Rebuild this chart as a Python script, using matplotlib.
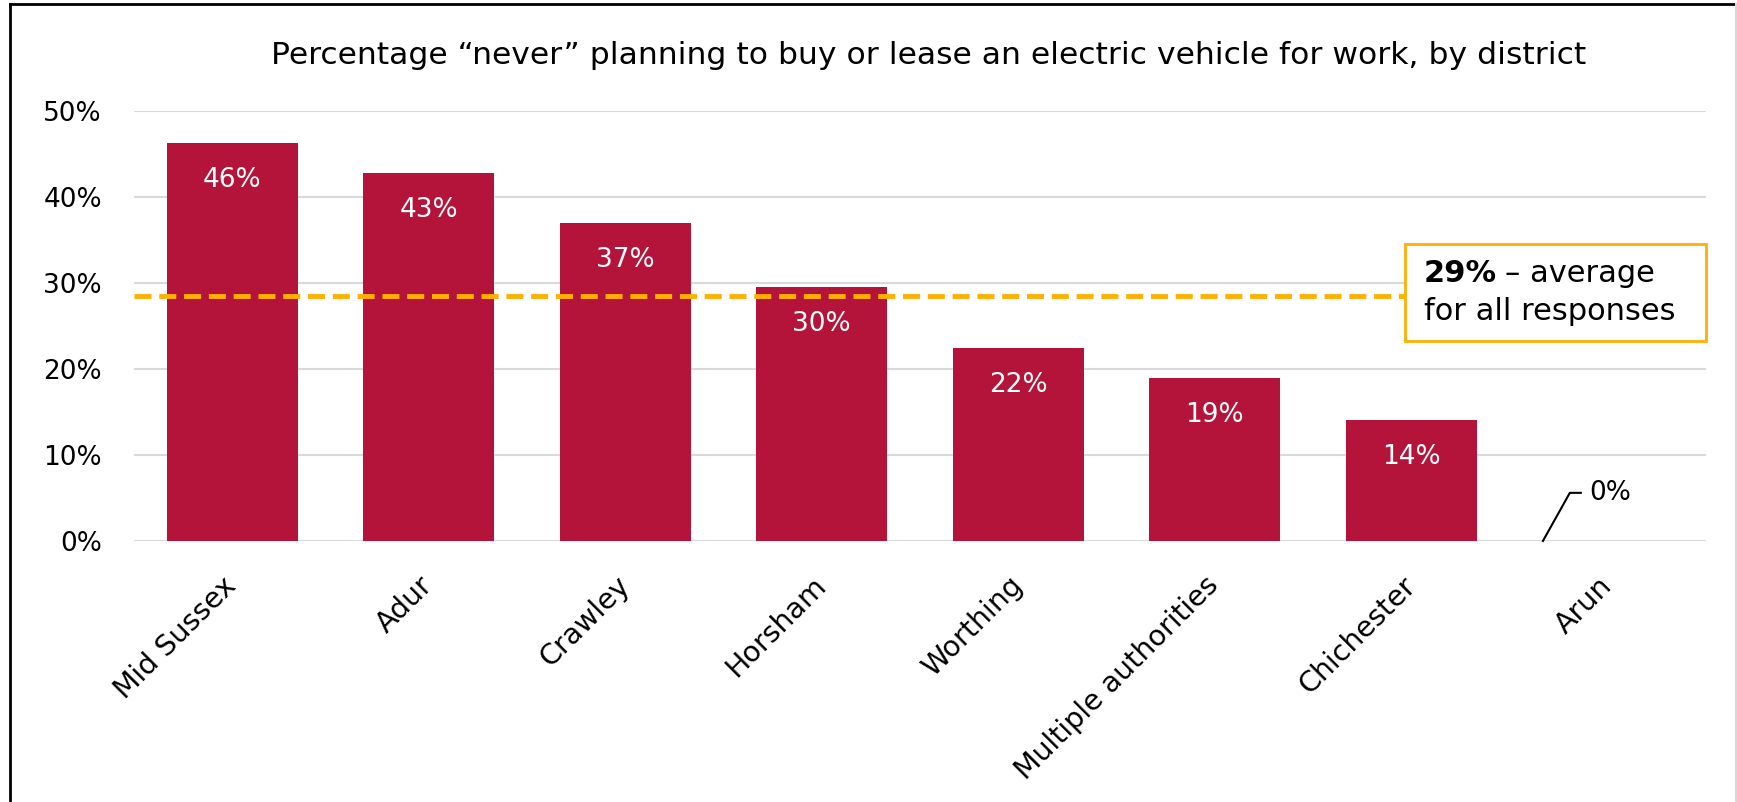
import numpy as np
import matplotlib
matplotlib.use("Agg")
import matplotlib.pyplot as plt
from matplotlib.patches import Rectangle
from matplotlib.lines import Line2D

districts = ["Mid Sussex", "Adur", "Crawley", "Horsham", "Worthing",
             "Multiple authorities", "Chichester", "Arun"]
never_pct = [46.3, 42.8, 37.0, 29.5, 22.4, 19.0, 14.1, 0.0]
value_labels = ["46%", "43%", "37%", "30%", "22%", "19%", "14%", "0%"]
average_pct = 28.5
average_label = "29%"
y_ticks = [0, 10, 20, 30, 40, 50]

BAR = "#B5143A"
AMBER = "#FFB000"
GRID = "#D9D9D9"

plt.rcParams["font.family"] = ["DejaVu Sans"]

W, H = 1737, 802
L, R, T, B = 134, 1706, 111, 541
fig = plt.figure(figsize=(W / 100, H / 100), dpi=100)
ax = fig.add_axes([L / W, 1 - B / H, (R - L) / W, (B - T) / H])

x = np.arange(len(districts))
ax.bar(x, never_pct, width=0.667, color=BAR, zorder=2)
ax.set_xlim(-0.5, len(districts) - 0.5)
ax.set_ylim(0, 50)
ax.set_yticks(y_ticks)
ax.set_yticklabels([f"{v}%" for v in y_ticks], fontsize=19)
ax.tick_params(axis="y", length=0, pad=23)
ax.set_xticks(x)
ax.set_xticklabels(districts, rotation=45, ha="right", va="center",
                   rotation_mode="anchor", fontsize=20.5)
ax.tick_params(axis="x", length=0, pad=29)
ax.grid(axis="y", color=GRID, lw=1.5, zorder=0)
ax.set_axisbelow(True)
for s in ax.spines.values():
    s.set_visible(False)

# value labels inside bars; the empty Arun bar gets a leader line instead
for xi, v, lab in zip(x, never_pct, value_labels):
    if v > 1:
        ax.text(xi, v - 4.3, lab, ha="center", va="center", color="white",
                fontsize=19)
    else:
        ax.plot([xi - 0.33, xi - 0.193, xi - 0.137], [v, v + 5.6, v + 5.6],
                color="black", lw=1.5, zorder=3, clip_on=False)
        ax.text(xi - 0.092, v + 5.6, lab, ha="left", va="center", fontsize=19)

# average line up to the callout box
box_left = 1405
ax.plot([-0.5, (box_left - L) / (R - L) * len(districts) - 0.5],
        [average_pct, average_pct], color=AMBER, lw=3.5, ls=(0, (3.5, 1.6)),
        zorder=3, solid_capstyle="butt")

fig.patches.append(Rectangle((box_left / W, 1 - 341 / H), (1706 - box_left) / W,
                             (341 - 244) / H, transform=fig.transFigure,
                             fill=True, facecolor="white", edgecolor=AMBER, lw=2))
t1 = fig.text(1424 / W, 1 - 274 / H, average_label, fontsize=22, fontweight="bold",
              va="center", ha="left")
fig.canvas.draw()
bb = t1.get_window_extent()
fig.text((bb.x1 + 8) / W, 1 - 274 / H, "\u2013 average", fontsize=22,
         va="center", ha="left")
fig.text(1424 / W, 1 - 312 / H, "for all responses", fontsize=22, va="center", ha="left")

fig.text(929 / W, 1 - 56 / H,
         "Percentage \u201cnever\u201d planning to buy or lease an electric vehicle for work, by district",
         ha="center", va="center", fontsize=22.6)

# outer frame: left and top in black, right in light grey
fig.lines.append(Line2D([10 / W, 10 / W], [0, 1 - 4 / H], transform=fig.transFigure,
                        color="black", lw=2))
fig.lines.append(Line2D([10 / W, 1736 / W], [1 - 4 / H, 1 - 4 / H],
                        transform=fig.transFigure, color="black", lw=2))
fig.lines.append(Line2D([1736 / W, 1736 / W], [0, 1 - 4 / H], transform=fig.transFigure,
                        color=GRID, lw=1.5))

fig.savefig("out.png", dpi=100)
